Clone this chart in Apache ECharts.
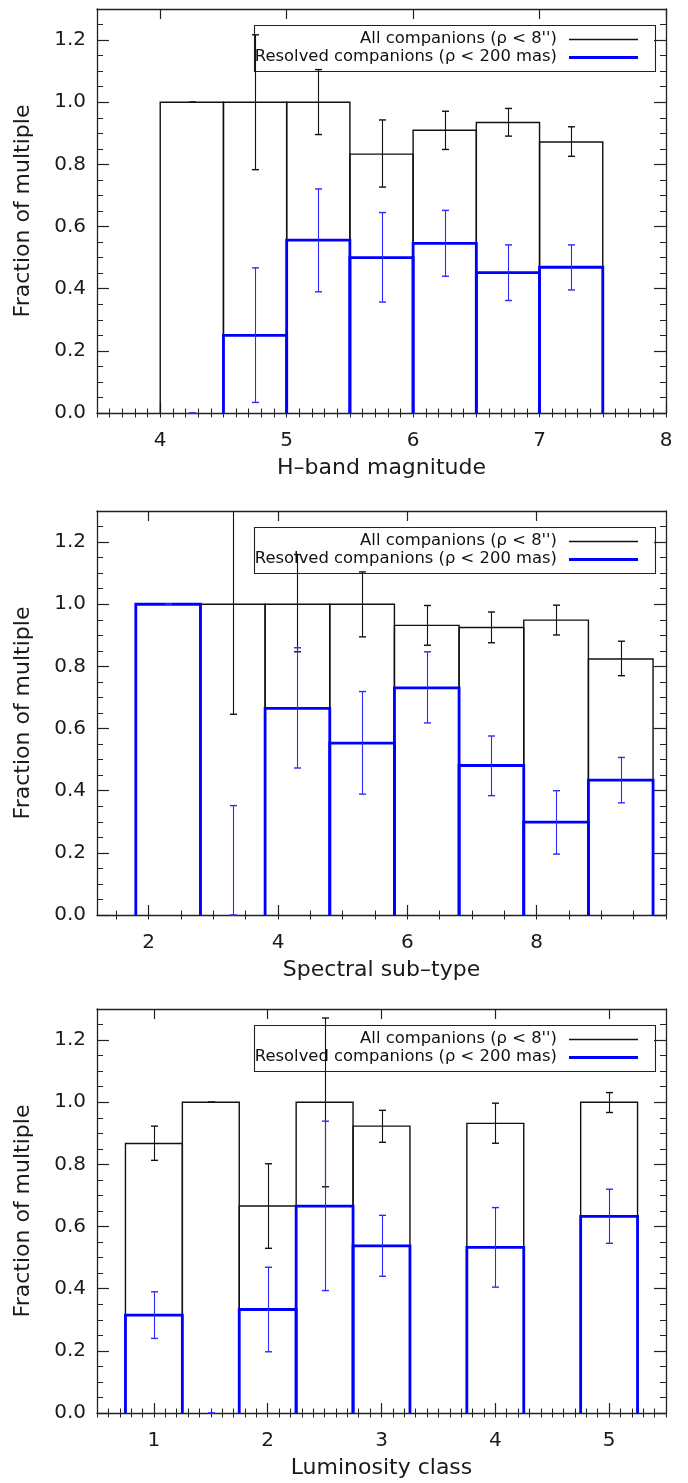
<!DOCTYPE html>
<html>
<head>
<meta charset="utf-8">
<script src="https://cdn.jsdelivr.net/npm/echarts@6/dist/echarts.min.js"></script>
<style>
html,body{margin:0;padding:0;background:#fff;}
#c{width:688px;height:1483px;}
</style>
</head>
<body>
<div id="c"></div>
<script>
// ---------- DATA ----------
// Panel 1: H-band magnitude (bins 0.5 wide, given by left edge)
const hBinLeft = [4.0, 4.5, 5.0, 5.5, 6.0, 6.5, 7.0];
const hAll     = [1.0, 1.0, 1.0, 0.833, 0.910, 0.935, 0.872];
const hAllLo   = [1.0, 0.783, 0.896, 0.727, 0.848, 0.891, 0.826];
const hAllHi   = [1.0, 1.217, 1.105, 0.943, 0.971, 0.980, 0.921];
const hRes     = [0.0, 0.250, 0.556, 0.500, 0.546, 0.452, 0.469];
const hResLo   = [0.0, 0.034, 0.390, 0.357, 0.440, 0.362, 0.396];
const hResHi   = [0.0, 0.467, 0.721, 0.645, 0.652, 0.541, 0.541];
const hTicks   = [4, 5, 6, 7, 8];

// Panel 2: Spectral sub-type (bins 1 wide)
const sBinLeft = [1.8, 2.8, 3.8, 4.8, 5.8, 6.8, 7.8, 8.8];
const sAll     = [1.0, 1.0, 1.0, 1.0, 0.932, 0.925, 0.949, 0.824];
const sAllLo   = [1.0, 0.646, 0.847, 0.895, 0.868, 0.876, 0.901, 0.770];
const sAllHi   = [1.0, 1.354, 1.160, 1.104, 0.996, 0.975, 0.997, 0.881];
const sRes     = [1.0, 0.0, 0.665, 0.553, 0.731, 0.481, 0.299, 0.434];
const sResLo   = [1.0, 0.0, 0.473, 0.389, 0.618, 0.384, 0.196, 0.361];
const sResHi   = [1.0, 0.352, 0.860, 0.719, 0.847, 0.576, 0.400, 0.507];
const sTicks   = [2, 4, 6, 8];

// Panel 3: Luminosity class (bins 0.5 wide)
const lBinLeft = [0.75, 1.25, 1.75, 2.25, 2.75, 3.75, 4.75];
const lAll     = [0.867, 1.0, 0.666, 1.0, 0.923, 0.932, 1.0];
const lAllLo   = [0.813, 1.0, 0.530, 0.728, 0.871, 0.868, 0.967];
const lAllHi   = [0.923, 1.0, 0.802, 1.271, 0.974, 0.997, 1.031];
const lRes     = [0.315, 0.0, 0.333, 0.666, 0.538, 0.533, 0.633];
const lResLo   = [0.240, 0.0, 0.197, 0.394, 0.440, 0.405, 0.546];
const lResHi   = [0.390, 0.0, 0.469, 0.939, 0.636, 0.661, 0.720];
const lTicks   = [1, 2, 3, 4, 5];

const yTicks   = [0.0, 0.2, 0.4, 0.6, 0.8, 1.0, 1.2];
const legendLabels = ["All companions (\u03c1 < 8'')", "Resolved companions (\u03c1 < 200 mas)"];

// ---------- LAYOUT / STYLE ----------
const FONT = 'DejaVu Sans';
const FRAME = '#222';
const BLUE = '#0000ff';
const PLOT_L = 97, PLOT_W = 569, PLOT_H = 404;
const tops = [9, 511, 1009];

const panels = [
  {xmin: 3.5, xmax: 8.0, ticks: hTicks, minorStep: 0.1, name: 'H\u2013band magnitude', binW: 0.5,
   left: hBinLeft, all: hAll, allLo: hAllLo, allHi: hAllHi, res: hRes, resLo: hResLo, resHi: hResHi},
  {xmin: 1.2, xmax: 10.0, ticks: sTicks, minorStep: 0.5, name: 'Spectral sub\u2013type', binW: 1.0,
   left: sBinLeft, all: sAll, allLo: sAllLo, allHi: sAllHi, res: sRes, resLo: sResLo, resHi: sResHi},
  {xmin: 0.5, xmax: 5.5, ticks: lTicks, minorStep: 0.1, name: 'Luminosity class', binW: 0.5,
   left: lBinLeft, all: lAll, allLo: lAllLo, allHi: lAllHi, res: lRes, resLo: lResLo, resHi: lResHi}
];

function stepValues(min, max, step) {
  const out = [];
  const k0 = Math.ceil(min / step - 1e-9), k1 = Math.floor(max / step + 1e-9);
  for (let k = k0; k <= k1; k++) out.push(+(k * step).toFixed(6));
  return out;
}

const grid = [], xAxis = [], yAxis = [], series = [], graphic = [];

function barRender(color, width) {
  return function (params, api) {
    const x0 = api.value(0), x1 = api.value(1), v = api.value(2);
    if (!(v > 0)) return null;
    const pts = [api.coord([x0, 0]), api.coord([x0, v]), api.coord([x1, v]), api.coord([x1, 0])];
    return {type: 'polyline', shape: {points: pts}, style: {stroke: color, lineWidth: width, fill: null}};
  };
}
function errRender(color, width) {
  return function (params, api) {
    const xc = api.value(0), lo = api.value(1), hi = api.value(2);
    const cs = params.coordSys;
    const pl = api.coord([xc, lo]), ph = api.coord([xc, hi]);
    const x = Math.round(pl[0]) + 0.5;
    const yTop = cs.y, yBot = cs.y + cs.height;
    const y1 = Math.max(ph[1], yTop), y2 = Math.min(pl[1], yBot);
    const cap = 3.5;
    const children = [];
    if (y2 > y1) children.push({type: 'line', shape: {x1: x, y1: y1, x2: x, y2: y2}, style: {stroke: color, lineWidth: width}});
    if (ph[1] >= yTop) children.push({type: 'line', shape: {x1: x - cap, y1: ph[1], x2: x + cap, y2: ph[1]}, style: {stroke: color, lineWidth: width + 0.3}});
    if (pl[1] <= yBot) children.push({type: 'line', shape: {x1: x - cap, y1: pl[1], x2: x + cap, y2: pl[1]}, style: {stroke: color, lineWidth: width + 0.3}});
    return {type: 'group', children: children};
  };
}

panels.forEach(function (p, i) {
  const top = tops[i];
  grid.push({left: PLOT_L, top: top, width: PLOT_W, height: PLOT_H, containLabel: false});
  const xMinor = stepValues(p.xmin, p.xmax, p.minorStep);
  const yMinor = stepValues(0, 1.3, 0.05);
  const xb = xAxis.length, yb = yAxis.length;
  const commonX = {type: 'value', gridIndex: i, min: p.xmin, max: p.xmax, splitLine: {show: false}};
  const commonY = {type: 'value', gridIndex: i, min: 0, max: 1.3, splitLine: {show: false}};
  // bottom major (with labels + name)
  xAxis.push(Object.assign({}, commonX, {
    position: 'bottom',
    axisLine: {show: true, onZero: false, lineStyle: {color: FRAME, width: 1.3}},
    axisTick: {show: true, inside: true, length: 10, customValues: p.ticks, lineStyle: {color: FRAME, width: 1.2}},
    axisLabel: {show: true, customValues: p.ticks, margin: 18, color: '#1a1a1a', fontSize: 20, fontFamily: FONT,
      formatter: function (v) { return String(v); }},
    name: p.name, nameLocation: 'middle', nameGap: 44,
    nameTextStyle: {color: '#1a1a1a', fontSize: 22, fontFamily: FONT}
  }));
  // bottom minor
  xAxis.push(Object.assign({}, commonX, {
    position: 'bottom', axisLine: {show: false},
    axisTick: {show: true, inside: true, length: 4.5, customValues: xMinor, lineStyle: {color: FRAME, width: 1}},
    axisLabel: {show: false}
  }));
  // top major
  xAxis.push(Object.assign({}, commonX, {
    position: 'top',
    axisLine: {show: true, onZero: false, lineStyle: {color: FRAME, width: 1.3}},
    axisTick: {show: true, inside: true, length: 10, customValues: p.ticks, lineStyle: {color: FRAME, width: 1.2}},
    axisLabel: {show: false}
  }));
  // top minor
  xAxis.push(Object.assign({}, commonX, {
    position: 'top', axisLine: {show: false},
    axisTick: {show: true, inside: true, length: 4.5, customValues: xMinor, lineStyle: {color: FRAME, width: 1}},
    axisLabel: {show: false}
  }));
  // left major
  yAxis.push(Object.assign({}, commonY, {
    position: 'left',
    axisLine: {show: true, onZero: false, lineStyle: {color: FRAME, width: 1.3}},
    axisTick: {show: true, inside: true, length: 12, customValues: yTicks, lineStyle: {color: FRAME, width: 1.2}},
    axisLabel: {show: true, customValues: yTicks, margin: 11, color: '#1a1a1a', fontSize: 20, fontFamily: FONT,
      formatter: function (v) { return (+v).toFixed(1); }},
    name: 'Fraction of multiple', nameLocation: 'middle', nameGap: 63,
    nameTextStyle: {color: '#1a1a1a', fontSize: 22, fontFamily: FONT}
  }));
  // left minor
  yAxis.push(Object.assign({}, commonY, {
    position: 'left', axisLine: {show: false},
    axisTick: {show: true, inside: true, length: 6, customValues: yMinor, lineStyle: {color: FRAME, width: 1}},
    axisLabel: {show: false}
  }));
  // right major
  yAxis.push(Object.assign({}, commonY, {
    position: 'right',
    axisLine: {show: true, onZero: false, lineStyle: {color: FRAME, width: 1.3}},
    axisTick: {show: true, inside: true, length: 12, customValues: yTicks, lineStyle: {color: FRAME, width: 1.2}},
    axisLabel: {show: false}
  }));
  // right minor
  yAxis.push(Object.assign({}, commonY, {
    position: 'right', axisLine: {show: false},
    axisTick: {show: true, inside: true, length: 6, customValues: yMinor, lineStyle: {color: FRAME, width: 1}},
    axisLabel: {show: false}
  }));

  const allBars = p.left.map(function (x0, k) { return [x0, x0 + p.binW, p.all[k]]; });
  const resBars = p.left.map(function (x0, k) { return [x0, x0 + p.binW, p.res[k]]; });
  const allErr = p.left.map(function (x0, k) { return [x0 + p.binW / 2, p.allLo[k], p.allHi[k]]; });
  const resErr = p.left.map(function (x0, k) { return [x0 + p.binW / 2, p.resLo[k], p.resHi[k]]; });

  series.push({type: 'custom', name: legendLabels[0], xAxisIndex: xb, yAxisIndex: yb, data: allBars,
    renderItem: barRender('#111', 1.4), z: 2, silent: true});
  series.push({type: 'custom', name: legendLabels[0] + ' err', xAxisIndex: xb, yAxisIndex: yb, data: allErr,
    renderItem: errRender('#111', 1.1), z: 3, silent: true});
  series.push({type: 'custom', name: legendLabels[1], xAxisIndex: xb, yAxisIndex: yb, data: resBars,
    renderItem: barRender(BLUE, 2.8), z: 4, silent: true});
  series.push({type: 'custom', name: legendLabels[1] + ' err', xAxisIndex: xb, yAxisIndex: yb, data: resErr,
    renderItem: errRender('#2b2bff', 1.1), z: 5, silent: true});

  // legend box (drawn without fill, like the original)
  graphic.push({type: 'rect', shape: {x: 254.5, y: top + 16.5, width: 401, height: 46},
    style: {stroke: FRAME, lineWidth: 1.1, fill: null}, z: 1, silent: true});
  graphic.push({type: 'text', style: {text: legendLabels[0], x: 557, y: top + 30, align: 'right', verticalAlign: 'middle',
    fontSize: 16.4, fontFamily: FONT, fill: '#111'}, z: 1, silent: true});
  graphic.push({type: 'text', style: {text: legendLabels[1], x: 557, y: top + 48, align: 'right', verticalAlign: 'middle',
    fontSize: 16.4, fontFamily: FONT, fill: '#111'}, z: 1, silent: true});
  graphic.push({type: 'line', shape: {x1: 569, y1: top + 30.5, x2: 638, y2: top + 30.5},
    style: {stroke: '#111', lineWidth: 1.3}, z: 1, silent: true});
  graphic.push({type: 'line', shape: {x1: 569, y1: top + 48.5, x2: 638, y2: top + 48.5},
    style: {stroke: BLUE, lineWidth: 2.8}, z: 1, silent: true});
});

const chart = echarts.init(document.getElementById('c'), null, {renderer: 'canvas'});
chart.setOption({
  animation: false,
  backgroundColor: '#ffffff',
  grid: grid,
  xAxis: xAxis,
  yAxis: yAxis,
  series: series,
  graphic: graphic
});
</script>
</body>
</html>
